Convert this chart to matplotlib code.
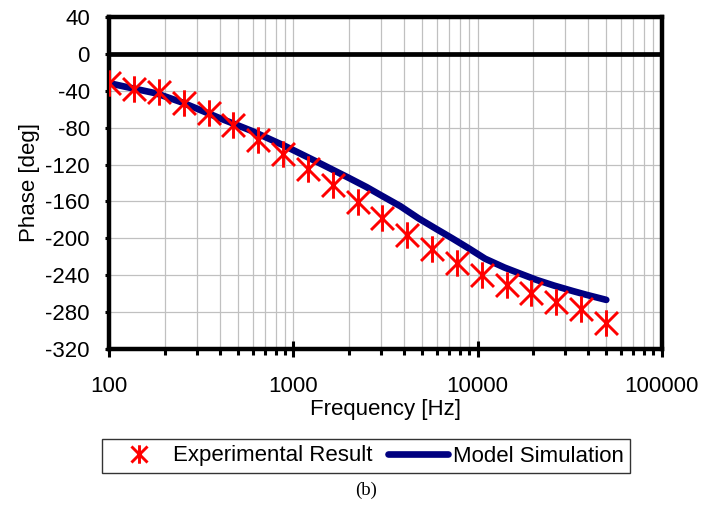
import matplotlib
matplotlib.use("Agg")
import matplotlib.pyplot as plt
from matplotlib.path import Path
from matplotlib.ticker import FixedLocator, NullFormatter, LogLocator

plt.rcParams['font.family'] = ['Liberation Sans', 'DejaVu Sans']
plt.rcParams['axes.unicode_minus'] = False

# experimental points
exp_freq = [100, 136, 186, 254, 346, 472, 644, 879, 1199, 1635, 2231,
            3043, 4152, 5664, 7727, 10541, 14380, 19618, 26762, 36510, 50000]
exp_phase = [-32.0, -38.5, -41.1, -53.7, -64.5, -77.2, -93.4, -108.9, -125.1,
             -142.1, -160.2, -178.1, -196.2, -211.7, -226.8, -239.5, -250.3,
             -259.3, -268.4, -276.6, -291.1]

# model simulation curve
model_freq = [100, 130, 180, 250, 400, 600, 900, 1340, 2000, 2500, 3000,
              3800, 4800, 6000, 7300, 9000, 11000, 14000, 17000, 21000,
              26000, 33000, 39000, 50000]
model_phase = [-32, -37, -43, -53, -70, -84, -100, -117, -134.5, -144.5,
               -153.5, -165, -178.5, -190, -200, -211, -222, -231.5, -238,
               -245, -251, -257, -261, -266.5]

yticks = list(range(-320, 41, 40))
xticks = [100, 1000, 10000, 100000]

# excel-like star marker: X plus vertical bar
star = Path([(-1, -1), (1, 1), (-1, 1), (1, -1), (0, -1.15), (0, 1.15)],
            [Path.MOVETO, Path.LINETO, Path.MOVETO, Path.LINETO,
             Path.MOVETO, Path.LINETO])

fig = plt.figure(figsize=(7.2, 5.14), dpi=100)
ax = fig.add_axes([109.3 / 720, 1 - 349.3 / 514, (661.7 - 109.3) / 720,
                   (349.3 - 16.7) / 514])

ax.set_xscale('log')
ax.set_xlim(100, 100000)
ax.set_ylim(-320, 40)

ax.grid(True, which='both', axis='x', color='#c0c0c0', lw=0.9)
ax.grid(True, which='major', axis='y', color='#c0c0c0', lw=0.9)
ax.set_axisbelow(True)
ax.axhline(0, color='black', lw=3.4, zorder=1.5)

ax.plot(model_freq, model_phase, color='#000080', lw=4.8,
        solid_capstyle='round', solid_joinstyle='round', zorder=3,
        label='Model Simulation')
ax.plot(exp_freq, exp_phase, ls='none', marker=star, ms=19, mew=2.1,
        mec='#ff0000', mfc='none', zorder=4, label='Experimental Result')

ax.xaxis.set_major_locator(FixedLocator(xticks))
ax.set_xticklabels([str(v) for v in xticks])
ax.xaxis.set_minor_locator(LogLocator(base=10, subs=range(2, 10)))
ax.xaxis.set_minor_formatter(NullFormatter())
ax.set_yticks(yticks)

for s in ax.spines.values():
    s.set_linewidth(3.2)
    s.set_color('black')

ax.tick_params(axis='x', which='major', direction='inout', length=12,
               width=2.2, labelsize=16, pad=13)
ax.tick_params(axis='x', which='minor', direction='out', length=4, width=2.2)
ax.tick_params(axis='y', which='major', direction='out', length=3, width=2.2,
               labelsize=16, pad=11)

ax.set_xlabel('Frequency [Hz]', fontsize=16, labelpad=2)
ax.set_ylabel('Phase [deg]', fontsize=16, labelpad=4)

h, l = ax.get_legend_handles_labels()
leg = fig.legend(h[::-1], l[::-1], loc='center', ncol=2,
                 bbox_to_anchor=(366 / 720, 1 - 456 / 514), fontsize=16,
                 frameon=True, fancybox=False, edgecolor='black',
                 handlelength=2.7, handletextpad=0.2, columnspacing=0.7,
                 borderpad=0.3, markerscale=0.7)
leg.get_frame().set_linewidth(1.0)

fig.text(366 / 720, 1 - 490 / 514, '(b)', ha='center', va='center',
         fontsize=13.5, family='Liberation Serif')

fig.savefig('out.png', dpi=100)
